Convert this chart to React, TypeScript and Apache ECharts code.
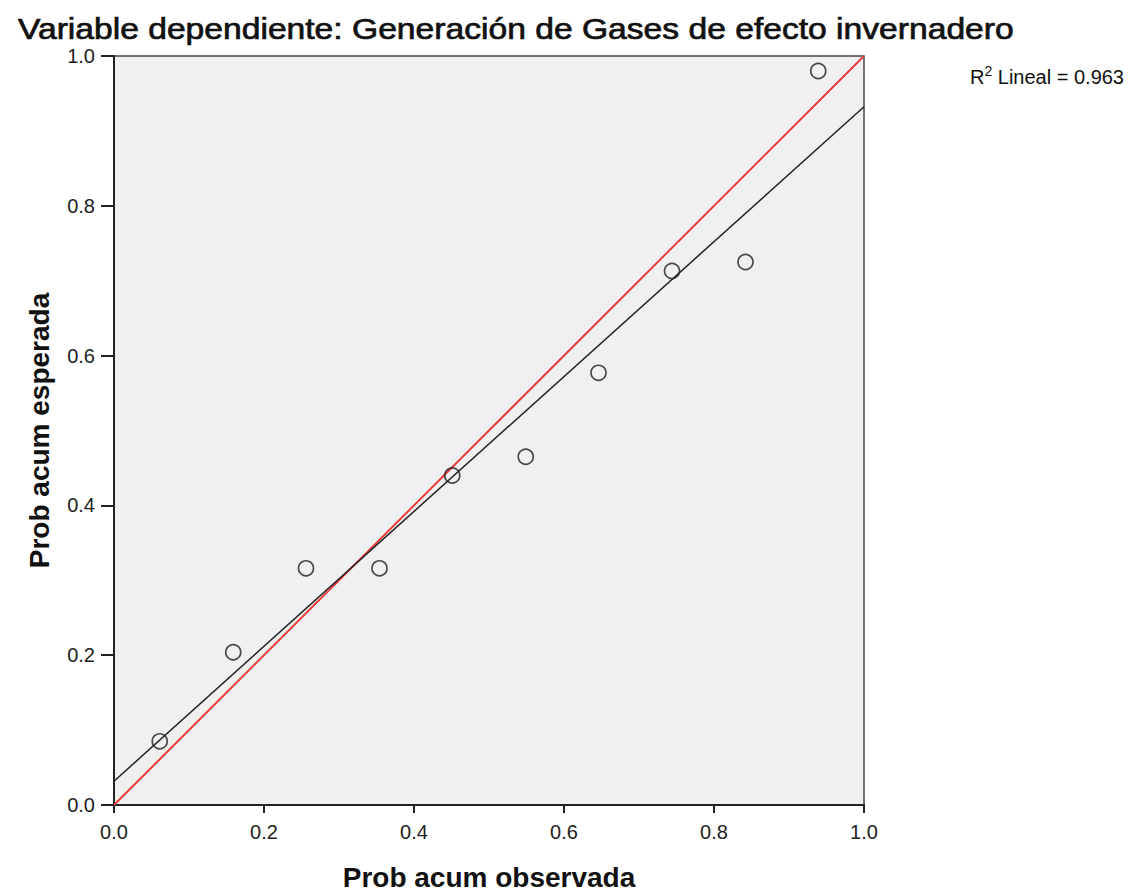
import React, { useEffect, useRef } from "react";
import * as echarts from "echarts";

// Normal P-P plot of regression residuals
const observedProb = [0.061, 0.159, 0.256, 0.354, 0.451, 0.549, 0.646, 0.744, 0.842, 0.939];
const expectedProb = [0.085, 0.204, 0.316, 0.316, 0.44, 0.465, 0.577, 0.713, 0.725, 0.98];
const axisTicks = [0, 0.2, 0.4, 0.6, 0.8, 1.0];
const rSquaredLabel = "0.963";

function linearFit(xs: number[], ys: number[]) {
  const n = xs.length;
  const mx = xs.reduce((a, b) => a + b, 0) / n;
  const my = ys.reduce((a, b) => a + b, 0) / n;
  let sxy = 0;
  let sxx = 0;
  for (let i = 0; i < n; i++) {
    sxy += (xs[i] - mx) * (ys[i] - my);
    sxx += (xs[i] - mx) * (xs[i] - mx);
  }
  const slope = sxy / sxx;
  return { slope, intercept: my - slope * mx };
}

export default function App() {
  const ref = useRef<HTMLDivElement>(null);

  useEffect(() => {
    document.body.style.margin = "0";
    if (!ref.current) return;
    const chart = echarts.init(ref.current, null, { renderer: "svg" });
    const fit = linearFit(observedProb, expectedProb);
    const xMin = axisTicks[0];
    const xMax = axisTicks[axisTicks.length - 1];
    const font = "Liberation Sans, Arial, sans-serif";
    const step = axisTicks[1] - axisTicks[0];

    const axisCommon = {
      type: "value",
      min: xMin,
      max: xMax,
      interval: step,
      nameLocation: "middle",
      nameTextStyle: { fontSize: 28, fontWeight: "bold", color: "#111", fontFamily: font },
      axisLine: { show: true, onZero: false, lineStyle: { color: "#222", width: 2 } },
      splitLine: { show: false },
    };

    chart.setOption({
      animation: false,
      backgroundColor: "#ffffff",
      textStyle: { fontFamily: font },
      graphic: [
        {
          type: "text",
          x: 18,
          y: 15,
          scaleX: 1.16,
          style: {
            text: "Variable dependiente: Generación de Gases de efecto invernadero",
            fontSize: 29,
            fontFamily: font,
            fill: "#111",
            stroke: "#111",
            lineWidth: 0.7,
            verticalAlign: "top",
          },
        },
        {
          type: "text",
          x: 970,
          y: 64,
          style: {
            text: "{b|R}{sup|2}{b| Lineal = " + rSquaredLabel + "}",
            verticalAlign: "top",
            rich: {
              b: { fontSize: 20, fontFamily: font, fill: "#111", verticalAlign: "bottom" },
              sup: { fontSize: 14, fontFamily: font, fill: "#111", padding: [0, 0, 9, 0] },
            },
          },
        },
      ],
      grid: {
        left: 114,
        top: 56,
        width: 750,
        height: 749,
        outerBoundsMode: "none",
        containLabel: false,
        show: true,
        backgroundColor: "#f0f0f0",
        borderColor: "#444",
        borderWidth: 1.5,
      },
      xAxis: {
        ...axisCommon,
        name: "Prob acum observada",
        nameGap: 58,
        axisTick: { show: true, inside: false, length: 8, lineStyle: { color: "#222", width: 2 } },
        axisLabel: {
          fontSize: 20,
          color: "#222",
          margin: 17,
          formatter: (v: number) => v.toFixed(1),
        },
      },
      yAxis: {
        ...axisCommon,
        name: "Prob acum esperada",
        nameGap: 61,
        nameRotate: 90,
        axisTick: { show: true, inside: false, length: 13, lineStyle: { color: "#222", width: 2 } },
        axisLabel: {
          fontSize: 20,
          color: "#222",
          margin: 19,
          formatter: (v: number) => v.toFixed(1),
        },
      },
      series: [
        {
          name: "Referencia",
          type: "line",
          data: [
            [xMin, xMin],
            [xMax, xMax],
          ],
          symbol: "none",
          lineStyle: { color: "#ee3b3b", width: 2 },
          silent: true,
          z: 2,
        },
        {
          name: "Ajuste lineal",
          type: "line",
          data: [
            [xMin, fit.intercept + fit.slope * xMin],
            [xMax, fit.intercept + fit.slope * xMax],
          ],
          symbol: "none",
          lineStyle: { color: "#222", width: 1.5 },
          silent: true,
          z: 3,
        },
        {
          name: "Residuos",
          type: "scatter",
          data: observedProb.map((x, i) => [x, expectedProb[i]]),
          symbol: "circle",
          symbolSize: 15,
          itemStyle: { color: "rgba(0,0,0,0)", borderColor: "#222", borderWidth: 1.7 },
          z: 4,
        },
      ],
    });

    return () => chart.dispose();
  }, []);

  return <div ref={ref} style={{ width: 1138, height: 892 }} />;
}
